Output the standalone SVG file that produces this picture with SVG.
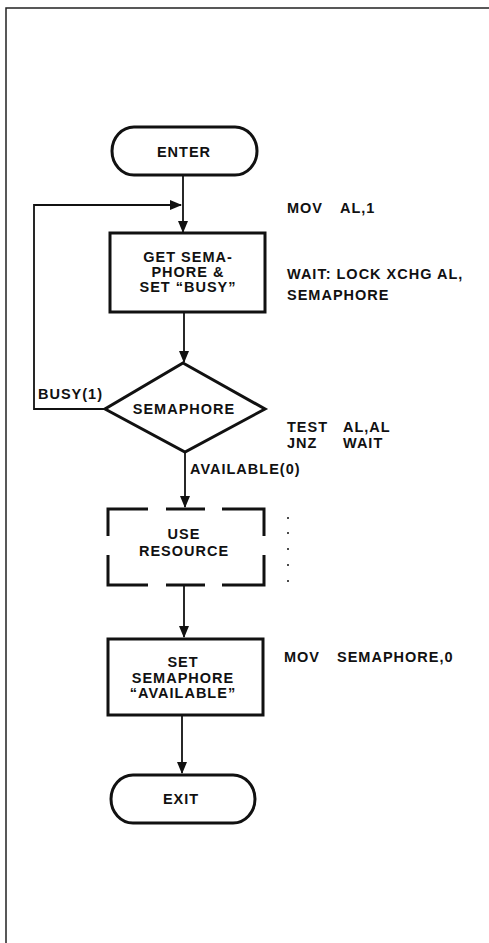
<svg xmlns="http://www.w3.org/2000/svg" width="489" height="943" viewBox="0 0 489 943">
<defs>
<marker id="arr" markerWidth="12" markerHeight="10" refX="11" refY="5" orient="auto" markerUnits="userSpaceOnUse">
<path d="M0,0 L12,5 L0,10 Z" fill="#111"/>
</marker>
<style>
text{font-family:"Liberation Sans",Arial,sans-serif;font-weight:bold;font-size:14.5px;letter-spacing:1px;fill:#111}
.c{text-anchor:middle}
.node{fill:#fff;stroke:#111;stroke-width:3}
.conn{fill:none;stroke:#111;stroke-width:1.8}
.frame{fill:none;stroke:#222;stroke-width:1.5}
</style>
</defs>
<rect width="489" height="943" fill="#fff"/>
<path class="frame" d="M6,943 V8 H489"/>
<g id="connectors">
<line class="conn" x1="183" y1="175" x2="183" y2="232" marker-end="url(#arr)"/>
<polyline class="conn" points="105,409 34,409 34,205 181,205" marker-end="url(#arr)"/>
<line class="conn" x1="184" y1="312" x2="184" y2="362" marker-end="url(#arr)"/>
<line class="conn" x1="185" y1="452" x2="185" y2="507" marker-end="url(#arr)"/>
<line class="conn" x1="184" y1="585" x2="184" y2="637" marker-end="url(#arr)"/>
<line class="conn" x1="182" y1="715" x2="182" y2="773" marker-end="url(#arr)"/>
</g>
<g id="enter">
<rect class="node" x="112" y="127" width="145" height="48" rx="22" ry="24"/>
<text class="c" x="184" y="157">ENTER</text>
</g>
<g id="get">
<rect class="node" x="110" y="233" width="155" height="79"/>
<text class="c" x="188" y="262">GET SEMA-</text>
<text class="c" x="188" y="277">PHORE &amp;</text>
<text class="c" x="188" y="292">SET “BUSY”</text>
</g>
<g id="decision">
<polygon class="node" points="183,363 265,409 185,452 105,409"/>
<text class="c" x="184" y="414">SEMAPHORE</text>
</g>
<g id="use">
<path fill="none" stroke="#111" stroke-width="3" d="M108,536 V509 H148 M166,509 H205 M222,509 H264 V536 M264,555 V585 H222 M205,585 H166 M148,585 H108 V555"/>
<text class="c" x="184" y="539">USE</text>
<text class="c" x="184" y="556">RESOURCE</text>
</g>
<g id="set">
<rect class="node" x="108" y="639" width="155" height="76"/>
<text class="c" x="183" y="667">SET</text>
<text class="c" x="183" y="683">SEMAPHORE</text>
<text class="c" x="183" y="698">“AVAILABLE”</text>
</g>
<g id="exit">
<rect class="node" x="111" y="775" width="144" height="48" rx="22" ry="24"/>
<text class="c" x="181" y="804">EXIT</text>
</g>
<g id="labels">
<text x="38" y="399">BUSY(1)</text>
<text x="190" y="474">AVAILABLE(0)</text>
<text x="287" y="213">MOV</text>
<text x="340" y="213">AL,1</text>
<text x="287" y="279">WAIT: LOCK XCHG AL,</text>
<text x="287" y="300">SEMAPHORE</text>
<text x="287" y="432">TEST</text>
<text x="343" y="432">AL,AL</text>
<text x="287" y="448">JNZ</text>
<text x="343" y="448">WAIT</text>
<text x="284" y="662">MOV</text>
<text x="337" y="662">SEMAPHORE,0</text>
<g fill="#111">
<circle cx="288" cy="518" r="1"/>
<circle cx="288" cy="533" r="1"/>
<circle cx="288" cy="549" r="1"/>
<circle cx="288" cy="565" r="1"/>
<circle cx="288" cy="581" r="1"/>
</g>
</g>
</svg>
